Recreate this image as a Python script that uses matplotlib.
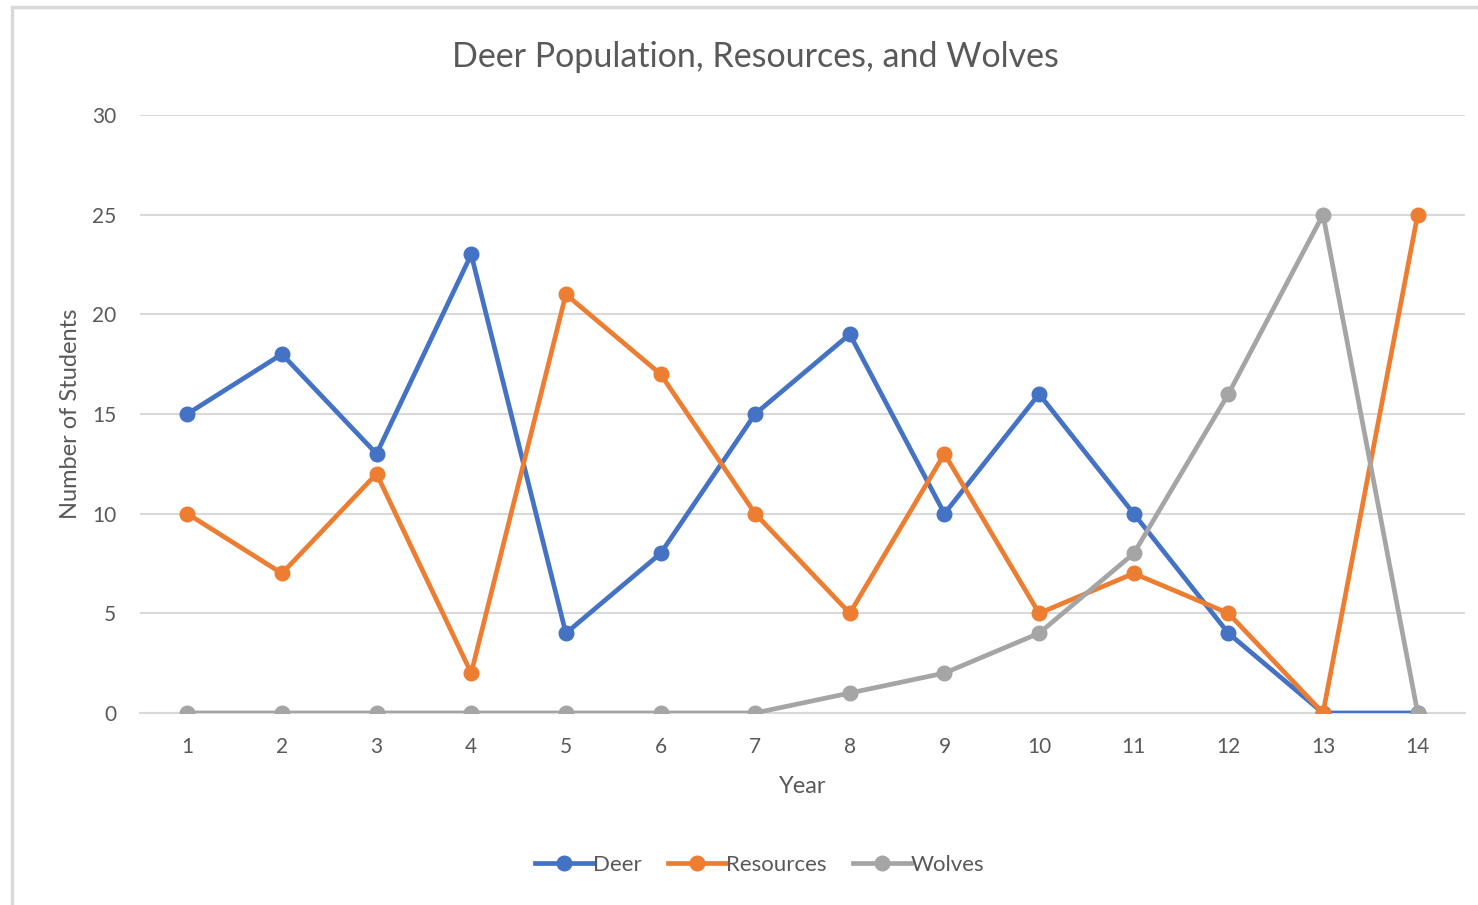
import matplotlib.pyplot as plt
from matplotlib.patches import Rectangle

plt.rcParams['font.family'] = ['Lato', 'DejaVu Sans']

years = list(range(1, 15))
deer = [15, 18, 13, 23, 4, 8, 15, 19, 10, 16, 10, 4, 0, 0]
resources = [10, 7, 12, 2, 21, 17, 10, 5, 13, 5, 7, 5, 0, 25]
wolves = [0, 0, 0, 0, 0, 0, 0, 1, 2, 4, 8, 16, 25, 0]

fig = plt.figure(figsize=(14.78, 9.05), dpi=100)
ax = fig.add_axes([0.0947, 0.2122, 0.8965, 0.6608])

# outer chart frame
fig.patches.append(Rectangle((12 / 1478, -0.01), 1.02, 1 - 7 / 905 + 0.01,
                             transform=fig.transFigure, fill=False,
                             edgecolor='#d9d9d9', linewidth=2.5))

ax.plot(years, deer, color='#4472C4', lw=3.4, marker='o', ms=10.5, label='Deer', zorder=3)
ax.plot(years, resources, color='#ED7D31', lw=3.4, marker='o', ms=10.5, label='Resources', zorder=3)
ax.plot(years, wolves, color='#A5A5A5', lw=3.4, marker='o', ms=10.5, label='Wolves', zorder=3)

ax.set_xlim(0.5, 14.5)
ax.set_ylim(0, 30)
ax.set_xticks(years)
ax.set_yticks(range(0, 31, 5))
ax.yaxis.grid(True, color='#d9d9d9', lw=1.5)
ax.set_axisbelow(True)
for s in ['top', 'right', 'left']:
    ax.spines[s].set_visible(False)
ax.spines['bottom'].set_color('#d9d9d9')
ax.spines['bottom'].set_linewidth(1.5)
ax.tick_params(length=0, labelsize=15, colors='#595959')
ax.tick_params(axis='x', pad=17)
ax.tick_params(axis='y', pad=17)

fig.text(0.511, 1 - 57 / 905, 'Deer Population, Resources, and Wolves',
         fontsize=24.5, color='#595959', ha='center', va='center')
ax.set_xlabel('Year', fontsize=17, color='#595959', labelpad=14)
ax.set_ylabel('Number of Students', fontsize=17, color='#595959', labelpad=8)

fig.legend(loc='center', bbox_to_anchor=(0.514, 0.044), ncol=3, frameon=False,
           fontsize=16, labelcolor='#595959', handlelength=2.6,
           handletextpad=0.0, columnspacing=1.2)

fig.savefig('out.png', dpi=100)
